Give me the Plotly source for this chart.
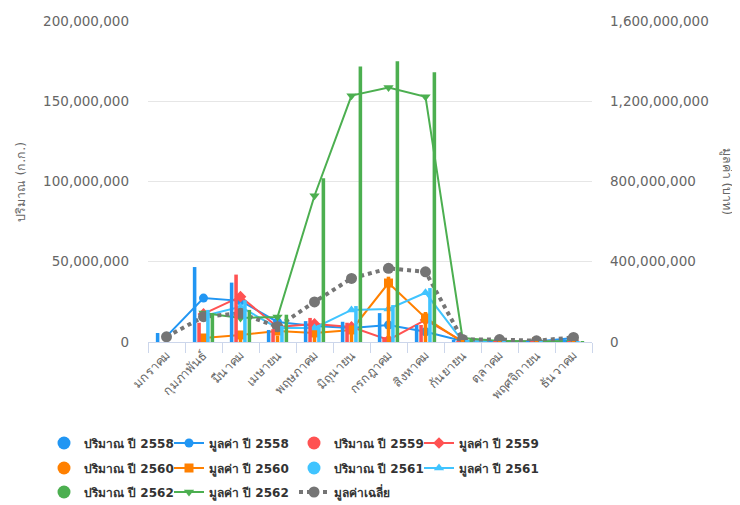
import plotly.graph_objects as go

months = ["มกราคม", "กุมภาพันธ์", "มีนาคม", "เมษายน", "พฤษภาคม", "มิถุนายน",
          "กรกฎาคม", "สิงหาคม", "กันยายน", "ตุลาคม", "พฤศจิกายน", "ธันวาคม"]

# Quantity (kg) - columns, left axis
qty_2558 = [5600000, 46700000, 37000000, 7500000, 13000000, 12600000, 18000000, 10600000, 1000000, 500000, 300000, 1500000]
qty_2559 = [0, 12000000, 42000000, 8000000, 15000000, 12000000, 3000000, 10600000, 500000, 300000, 200000, 500000]
qty_2560 = [0, 4000000, 6000000, 4000000, 6000000, 9500000, 40700000, 18700000, 1000000, 500000, 300000, 500000]
qty_2561 = [0, 20000000, 26000000, 10000000, 10600000, 22400000, 23000000, 33600000, 1000000, 500000, 300000, 500000]
qty_2562 = [0, 18000000, 20000000, 17000000, 102000000, 171600000, 175000000, 168000000, 2000000, 1000000, 500000, 500000]

# Value (baht) - lines, right axis
val_2558 = [28000000, 219000000, 205000000, 100000000, 80000000, 70000000, 85000000, 51000000, 5000000, 5000000, 3000000, 20000000]
val_2559 = [None, 140000000, 226000000, 75000000, 90000000, 75000000, 10000000, 110000000, 5000000, 3000000, 2000000, 5000000]
val_2560 = [None, 20000000, 35000000, 55000000, 45000000, 60000000, 294000000, 120000000, 0, 2000000, 1000000, 3000000]
val_2561 = [None, 130000000, 175000000, 70000000, 70000000, 160000000, 165000000, 245000000, 5000000, 3000000, 2000000, 5000000]
val_2562 = [None, 145000000, 120000000, 125000000, 729000000, 1228000000, 1268000000, 1222000000, 20000000, 5000000, 3000000, 5000000]
val_avg = [26000000, 126000000, 143000000, 76000000, 200000000, 317000000, 367000000, 350000000, 13000000, 12000000, 6000000, 23000000]

years = ["2558", "2559", "2560", "2561", "2562"]
qty_series = [qty_2558, qty_2559, qty_2560, qty_2561, qty_2562]
val_series = [val_2558, val_2559, val_2560, val_2561, val_2562]
colors = ["#2196F3", "#FF5252", "#FF8000", "#40C4FF", "#4CAF50"]
symbols = ["circle", "diamond", "square", "triangle-up", "triangle-down"]
legend_rows = ["legend", "legend", "legend2", "legend2", "legend3"]

FONT = "DejaVu Sans, Noto Sans, sans-serif"

# page body has an 8px margin, so the figure is laid out 8px smaller
W, H = 732, 497
L, T, PW, PH = 140, 13, 444, 321

fig = go.Figure()

rank = 1
for yr, q, v, c, s, lg in zip(years, qty_series, val_series, colors, symbols, legend_rows):
    fig.add_trace(go.Bar(x=months, y=q, name="ปริมาณ ปี " + yr, marker_color=c,
                         marker_line_width=0, yaxis="y2", showlegend=False,
                         legendgroup="q" + yr))
    fig.add_trace(go.Scatter(x=[None], y=[None], mode="markers", name="ปริมาณ ปี " + yr,
                             marker=dict(color=c, size=13, symbol="circle"),
                             yaxis="y2", legendgroup="q" + yr, legendrank=rank, legend=lg))
    rank += 1
    fig.add_trace(go.Scatter(x=months, y=v, mode="lines+markers", name="มูลค่า ปี " + yr,
                             line=dict(color=c, width=2),
                             marker=dict(color=c, size=9, symbol=s),
                             yaxis="y", legendrank=rank, legend=lg))
    rank += 1

fig.add_trace(go.Scatter(x=months, y=val_avg, mode="lines+markers", name="มูลค่าเฉลี่ย",
                         line=dict(color="#757575", width=4, dash="dot"),
                         marker=dict(color="#757575", size=11, symbol="circle"),
                         yaxis="y", legendrank=rank, legend="legend3"))

bottom = T + PH
leg_common = dict(orientation="h", x=(36 - L) / PW, xanchor="left", yanchor="middle",
                  font=dict(size=12, color="#333333", weight="bold"),
                  entrywidth=80, itemwidth=30, bgcolor="rgba(0,0,0,0)",
                  traceorder="normal")

fig.update_layout(
    width=W, height=H,
    margin=dict(l=L, r=W - L - PW, t=T, b=H - T - PH, autoexpand=False),
    paper_bgcolor="white", plot_bgcolor="white",
    font=dict(family=FONT, size=13, color="#666666"),
    barmode="group", bargap=0.4, bargroupgap=0.2,
    xaxis=dict(type="category", tickangle=-45, tickfont=dict(size=12.5, color="#666666"),
               ticks="outside", tickson="boundaries", ticklen=10, tickcolor="#ccd6eb",
               showline=True, linecolor="#ccd6eb", linewidth=1, showgrid=False,
               range=[-0.5, 11.5], automargin=False),
    yaxis=dict(side="right", range=[0, 1600000000], dtick=400000000, tickformat=",d",
               showgrid=True, gridcolor="#e6e6e6", zeroline=False, automargin=False,
               tickfont=dict(size=13.5, color="#666666"), ticklabelstandoff=17),
    yaxis2=dict(side="left", overlaying="y", range=[0, 200000000], dtick=50000000,
                tickformat=",d", showgrid=False, zeroline=False, automargin=False,
                tickfont=dict(size=13.5, color="#666666"), ticklabelstandoff=18),
    legend=dict(leg_common, y=(bottom - 435) / PH),
    legend2=dict(leg_common, y=(bottom - 460) / PH),
    legend3=dict(leg_common, y=(bottom - 484) / PH),
    annotations=[
        dict(text="ปริมาณ (ก.ก.)", xref="paper", yref="paper", x=(12 - L) / PW, y=0.5,
             textangle=-90, showarrow=False, font=dict(size=12.5, color="#666666"),
             xanchor="center", yanchor="middle"),
        dict(text="มูลค่า (บาท)", xref="paper", yref="paper", x=(719 - L) / PW, y=0.5,
             textangle=90, showarrow=False, font=dict(size=12.5, color="#666666"),
             xanchor="center", yanchor="middle"),
    ],
)

fig.write_html("out.html")
